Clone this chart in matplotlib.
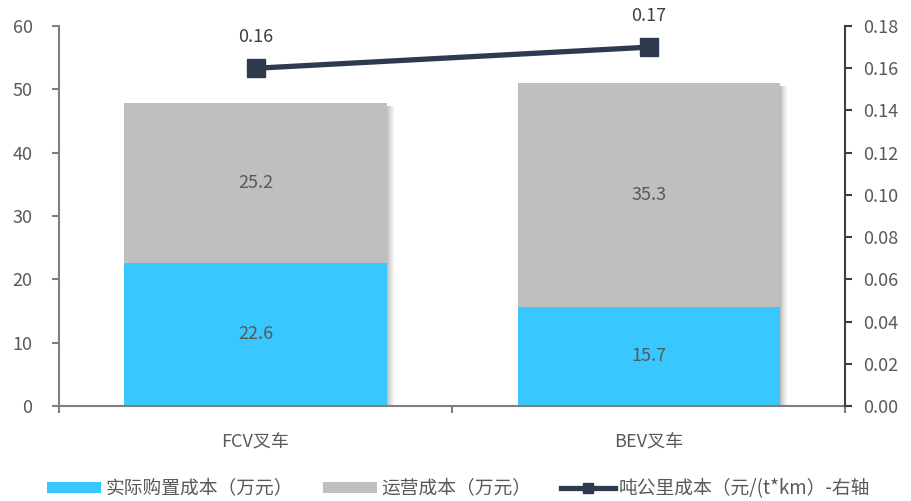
import matplotlib
matplotlib.use("Agg")
import matplotlib.pyplot as plt
from matplotlib.lines import Line2D
from matplotlib.patches import Patch
import numpy as np

plt.rcParams['font.family'] = ['Noto Sans CJK SC', 'DejaVu Sans']

categories = ["FCV叉车", "BEV叉车"]
purchase_cost = [22.6, 15.7]
operating_cost = [25.2, 35.3]
cost_per_tkm = [0.16, 0.17]

left_ticks = [0, 10, 20, 30, 40, 50, 60]
right_ticks = [0.00, 0.02, 0.04, 0.06, 0.08, 0.10, 0.12, 0.14, 0.16, 0.18]

BLUE = "#38C8FF"
GRAY = "#BFBFBF"
NAVY = "#2E3B4E"
TEXT = "#595959"
AXIS = "#7F7F7F"
FS = 13

fig = plt.figure(figsize=(9.12, 5.01), dpi=100)
ax = fig.add_axes([0.0647, 0.1896, 0.862, 0.7584])
x = np.arange(len(categories))
width = 0.667

totals = np.array(purchase_cost) + np.array(operating_cost)

# soft drop shadow to the right of each stacked bar
step = 0.0022
n = 10
for i in range(n):
    ax.bar(x + width / 2 + step * (i + 0.5), totals - 0.5, width=step, bottom=0,
           color="black", alpha=0.28 * (1 - i / n) ** 1.5, linewidth=0, zorder=1)

ax.bar(x, purchase_cost, width=width, color=BLUE, zorder=2, linewidth=0)
ax.bar(x, operating_cost, width=width, bottom=purchase_cost, color=GRAY, zorder=2, linewidth=0)

for xi, p, o in zip(x, purchase_cost, operating_cost):
    ax.text(xi, p / 2, f"{p}", ha="center", va="center", fontsize=FS, color=TEXT, zorder=5)
    ax.text(xi, p + o / 2, f"{o}", ha="center", va="center", fontsize=FS, color=TEXT, zorder=5)

ax.set_xlim(-0.5, 1.5)
ax.set_ylim(0, 60)
ax.set_yticks(left_ticks)
ax.set_xticks(x)
ax.set_xticklabels(categories)
ax.set_xticks([-0.5, 0.5, 1.5], minor=True)
ax.tick_params(axis="x", which="major", length=0, pad=20, labelsize=FS, labelcolor=TEXT)
ax.tick_params(axis="x", which="minor", length=5, width=1.5, color=AXIS, direction="out")
ax.tick_params(axis="y", length=5, width=1.5, color=AXIS, labelsize=FS, labelcolor=TEXT, pad=14)
for s in ["top", "right"]:
    ax.spines[s].set_visible(False)
for s in ["left", "bottom"]:
    ax.spines[s].set_color(AXIS)
    ax.spines[s].set_linewidth(1.5)

ax2 = ax.twinx()
ax2.set_ylim(0, 0.18)
ax2.set_yticks(right_ticks)
ax2.set_yticklabels([f"{t:.2f}" for t in right_ticks])
ax2.plot(x, cost_per_tkm, color=NAVY, linewidth=3.8, marker="s", markersize=12.5, zorder=4)
for xi, v in zip(x, cost_per_tkm):
    ax2.annotate(f"{v:.2f}", (xi, v), xytext=(0, 16), textcoords="offset points",
                 ha="center", va="bottom", fontsize=FS, color="#404040")
for s in ["top", "left", "bottom"]:
    ax2.spines[s].set_visible(False)
ax2.spines["right"].set_color("#404040")
ax2.spines["right"].set_linewidth(1.5)
ax2.tick_params(axis="y", length=5, width=1.5, color="#404040", labelsize=FS, labelcolor=TEXT, pad=8)

handles = [
    Patch(facecolor=BLUE, edgecolor="none"),
    Patch(facecolor=GRAY, edgecolor="none"),
    Line2D([0], [0], color=NAVY, linewidth=3.8, marker="s", markersize=7),
]
labels = ["实际购置成本（万元）", "运营成本（万元）", "吨公里成本（元/(t*km）-右轴"]
fig.legend(handles, labels, loc="lower center", bbox_to_anchor=(0.503, -0.03), ncol=3,
           frameon=False, fontsize=13.5, handlelength=2.9, handleheight=0.6,
           columnspacing=1.6, handletextpad=0.2, labelcolor=TEXT)

fig.savefig("out.png", dpi=100)
